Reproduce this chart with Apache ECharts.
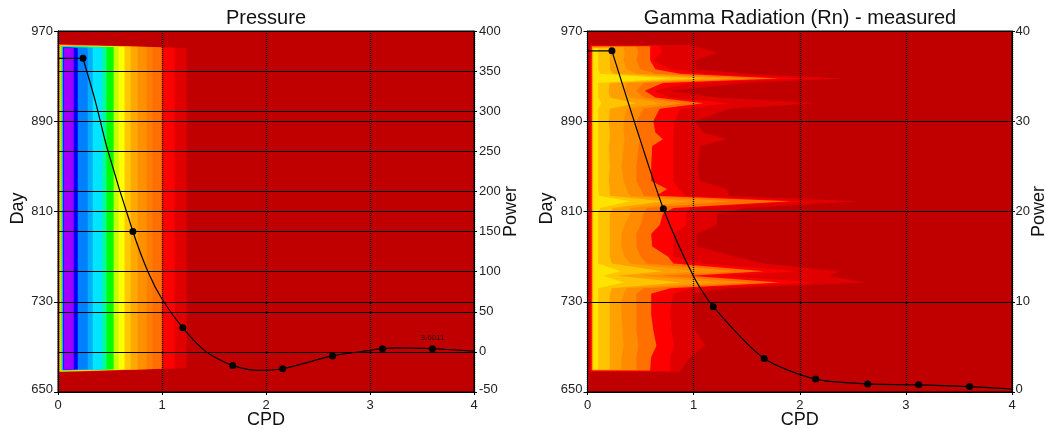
<!DOCTYPE html>
<html><head><meta charset="utf-8">
<script src="https://cdn.jsdelivr.net/npm/echarts@6/dist/echarts.min.js"></script>
<style>html,body{margin:0;background:#fff}#c{width:1046px;height:428px}</style></head>
<body><div id="c"></div>
<script>
// ---- Pressure spectrogram: nested contour bands (outer to inner)
const bandColor=['#e00000','#ff0000','#ff6e00','#ff7e00','#ff9000','#ffa800','#ffc800','#ffff00','#c8ff00','#00ff00','#00ff90','#00e6ff','#00b0ff','#0080ff','#0000ff','#a000ff'];
const bandRight=[1.237,1.122,1.0,0.91,0.853,0.766,0.70,0.64,0.584,0.535,0.468,0.43,0.334,0.286,0.19,0.151];
const bandLeft=[0.002,0.005,0.009,0.012,0.016,0.019,0.022,0.026,0.029,0.033,0.036,0.039,0.043,0.046,0.05,0.055];
const bandTopLeft=[958.4,958.2,958,957.8,957.6,957.4,957.2,957,956.8,956.6,956.4,956.2,956,955.8,955.6,955.4];
const bandTopRight=[954.9,955.2,955.5,955.7,955.8,955.9,956,956.1,956.1,955.8,955.5,955.3,955.2,955.1,955,955];
const bandBottomLeft=[667.5,667.7,667.8,668,668.2,668.3,668.5,668.7,668.8,669,669.2,669.3,669.5,669.7,669.8,670];
const bandBottomRight=[671.3,670.9,670.6,670.4,670.3,670.2,670.1,670,670,670,670,670,670,670,670,670];
// ---- Gamma spectrogram: contour boundary (CPD) per day row
const days=[958,951,944,936,932,928,924,917,911,906,901,890,880,874,868,850,837,830,824,819,813,808,798,790,779,770,764,757,753,747,742,737,730,719,705,691,681,668];
const contour1=[.97,1.22,1.01,1.03,1.50,2.41,1.50,.78,1.22,2.16,1.34,1.01,1.09,1.31,1.06,1.04,1.06,1.31,1.34,2.55,1.50,1.22,1.22,1.03,1.03,1.40,1.66,2.38,2.28,2.61,1.34,1.0,1.0,1.0,1.01,1.11,.97,.87];
const contour2=[.68,.70,.62,.78,1.09,2.03,.97,.62,.78,1.34,.87,.82,.81,.81,.81,.81,.81,.86,.93,2.06,.97,.93,.93,.81,.81,.81,1.09,1.97,1.28,2.13,.97,.81,.79,.78,.79,.82,.78,.78];
const contour3=[.59,.59,.59,.64,.87,1.80,.71,.54,.64,1.09,.68,.62,.64,.71,.61,.60,.60,.75,.65,1.90,.81,.71,.68,.60,.61,.76,.81,1.66,.97,1.81,.78,.60,.60,.60,.62,.65,.60,.59];
const contour4=[.46,.48,.46,.50,.65,1.53,.53,.46,.53,.90,.53,.46,.48,.50,.48,.46,.46,.50,.53,1.34,.56,.53,.50,.46,.46,.50,.56,1.40,.71,1.53,.53,.46,.46,.46,.46,.48,.46,.46];
const contour5=[.34,.35,.34,.37,.46,1.34,.37,.35,.40,.71,.37,.34,.34,.35,.34,.32,.34,.37,.40,.97,.40,.40,.35,.32,.32,.35,.40,1.03,.50,1.22,.37,.34,.32,.32,.33,.34,.32,.32];
const contour6=[.21,.21,.21,.21,.24,1.09,.21,.20,.21,.46,.21,.20,.21,.21,.20,.21,.20,.21,.21,.71,.24,.21,.21,.21,.21,.21,.23,.71,.28,.87,.23,.21,.21,.21,.21,.21,.21,.21];
const contour7=[.10,.10,.10,.10,.12,.78,.10,.10,.10,.13,.10,.10,.10,.10,.10,.10,.10,.10,.11,.40,.12,.10,.10,.10,.10,.10,.10,.31,.15,.34,.10,.10,.10,.10,.10,.10,.10,.10];
const contours=[contour1,contour2,contour3,contour4,contour5,contour6,contour7];
const contourColor=['#e00000','#ff0000','#ff7000','#ff8c00','#ffa000','#ffc400','#ffe400'];
const contourLeft=[.022,.028,.04,.043,.046,.05,.056];
const contourTop=[957.5,957,956.5,956,955.5,955,954.5];
const contourBottom=[668,668.5,669,669.5,670,670,670];
// ---- Power curves and their marked frequencies
const pressureLead=[[0,366],[.24,366]];
const pressureCurve=[[.24,366],[.36,312],[.47,255],[.72,150],[.865,100],[1,66],[1.2,30],[1.426,0],[1.68,-17],[1.907,-23],[2.16,-21],[2.64,-5],[3,2],[3.12,4],[3.25,5],[3.6,4],[3.8,2.5],[4,1]];
const pressureMarks=[[.24,366],[.72,150],[1.2,30],[1.68,-17],[2.16,-21],[2.64,-5],[3.12,4],[3.6,4]];
const gammaLead=[[0,37.8],[.23,37.8]];
const gammaCurve=[[.23,37.8],[.44,30],[.715,20.3],[1,12.8],[1.185,9.45],[1.665,3.7],[2.15,1.43],[2.64,.9],[3.12,.8],[3.6,.6],[4,.33]];
const gammaMarks=[[.23,37.8],[.715,20.3],[1.185,9.45],[1.665,3.7],[2.15,1.43],[2.64,.9],[3.12,.8],[3.6,.6]];
const peakLabel='3.6011';
const cpdTicks=[0,1,2,3,4];
const titles=['Pressure','Gamma Radiation (Rn) - measured'];

const FONT='"Liberation Sans", Arial, sans-serif';
const chart=echarts.init(document.getElementById('c'),null,{renderer:'canvas'});
function lab(min,margin){return {fontFamily:FONT,fontSize:13,color:'#222',margin,
  formatter:v=>v===min?'{m|'+v+'}':''+v,
  rich:{m:{fontFamily:FONT,fontSize:13,color:'#222',padding:[0,0,6,0]}}};}
function xAx(i){return {type:'value',gridIndex:i,min:0,max:4,interval:1,z:4,name:'CPD',nameLocation:'middle',nameGap:19,nameMoveOverlap:false,
  nameTextStyle:{fontFamily:FONT,fontSize:18,color:'#111'},
  axisLine:{show:true,onZero:false,lineStyle:{color:'#000'}},axisTick:{show:true,length:3,lineStyle:{color:'#000'}},
  axisLabel:{fontFamily:FONT,fontSize:13,color:'#222',margin:7,formatter:v=>cpdTicks.includes(v)?''+v:''},
  splitLine:{show:true,lineStyle:{color:'#000',type:[1,1],width:1.4}}};}
function yDay(i,gap){return {type:'value',gridIndex:i,min:650,max:970,interval:80,z:4,name:'Day',nameLocation:'middle',nameGap:gap,nameMoveOverlap:false,
  nameTextStyle:{fontFamily:FONT,fontSize:18,color:'#111',padding:[0,0,0,6]},
  axisLine:{show:true,lineStyle:{color:'#000'}},axisTick:{show:true,length:4,lineStyle:{color:'#000'}},
  axisLabel:lab(650,5),splitLine:{show:true,lineStyle:{color:'#000',width:1}}};}
function yPow(i,min,max,iv,gap,margin){return {type:'value',gridIndex:i,position:'right',min,max,interval:iv,z:4,name:'Power',nameLocation:'middle',nameGap:gap,nameMoveOverlap:false,
  nameTextStyle:{fontFamily:FONT,fontSize:18,color:'#111'},
  axisLine:{show:true,onZero:false,lineStyle:{color:'#000'}},axisTick:{show:true,length:3,lineStyle:{color:'#000'}},
  axisLabel:lab(min,margin),splitLine:{show:true,lineStyle:{color:'#000',width:1}}};}
function bandItem(p,api){
  const k=api.value(0);
  const pts=[[bandLeft[k],bandTopLeft[k]],[bandRight[k],bandTopRight[k]],[bandRight[k],bandBottomRight[k]],[bandLeft[k],bandBottomLeft[k]]].map(a=>api.coord(a));
  return {type:'polygon',shape:{points:pts},style:{fill:bandColor[k]}};
}
function contourItem(p,api){
  const k=api.value(0),c=contours[k],pts=[];
  const cl=d=>Math.max(contourBottom[k],Math.min(contourTop[k],d));
  pts.push(api.coord([contourLeft[k],cl(days[0])]));
  days.forEach((d,i)=>pts.push(api.coord([c[i],cl(d)])));
  pts.push(api.coord([contourLeft[k],cl(days[days.length-1])]));
  return {type:'polygon',shape:{points:pts},style:{fill:contourColor[k]}};
}
function lineS(xi,yi,d,s){return {type:'line',xAxisIndex:xi,yAxisIndex:yi,data:d,z:6,smooth:s,showSymbol:false,
  lineStyle:{color:'#000',width:1.2},silent:true,animation:false};}
function markS(xi,yi,d,label){return {type:'scatter',xAxisIndex:xi,yAxisIndex:yi,data:d,z:7,symbolSize:7,
  itemStyle:{color:'#000',opacity:1},silent:true,animation:false,
  label:{show:!!label,position:'top',distance:3,fontFamily:FONT,fontSize:8,color:'#300000',
    formatter:q=>(label&&q.dataIndex===d.length-1)?label:''}};}
chart.setOption({
  animation:false,
  title:[{text:titles[0],left:261,top:3,textAlign:'center',textStyle:{fontFamily:FONT,fontSize:20,fontWeight:'normal',color:'#111'}},
         {text:titles[1],left:795,top:3,textAlign:'center',textStyle:{fontFamily:FONT,fontSize:20,fontWeight:'normal',color:'#111'}}],
  grid:[{outerBoundsMode:'none',left:58,width:416,top:31,height:361,show:true,backgroundColor:'#c00000',borderColor:'#000',borderWidth:1},
        {outerBoundsMode:'none',left:587.5,width:424.5,top:31,height:361,show:true,backgroundColor:'#c00000',borderColor:'#000',borderWidth:1}],
  xAxis:[xAx(0),xAx(1)],
  yAxis:[yDay(0,31),yPow(0,-50,400,50,28,5),yDay(1,31),yPow(1,0,40,10,18,3.5)],
  series:[
    {type:'custom',xAxisIndex:0,yAxisIndex:0,z:1,silent:true,clip:true,animation:false,renderItem:bandItem,data:bandColor.map((c,i)=>[i]),encode:{x:0}},
    {type:'custom',xAxisIndex:1,yAxisIndex:2,z:1,silent:true,clip:true,animation:false,renderItem:contourItem,data:contours.map((c,i)=>[i]),encode:{x:0}},
    lineS(0,1,pressureLead,false),lineS(0,1,pressureCurve,.25),markS(0,1,pressureMarks,peakLabel),
    lineS(1,3,gammaLead,false),lineS(1,3,gammaCurve,.25),markS(1,3,gammaMarks,null)
  ]
});
</script></body></html>
